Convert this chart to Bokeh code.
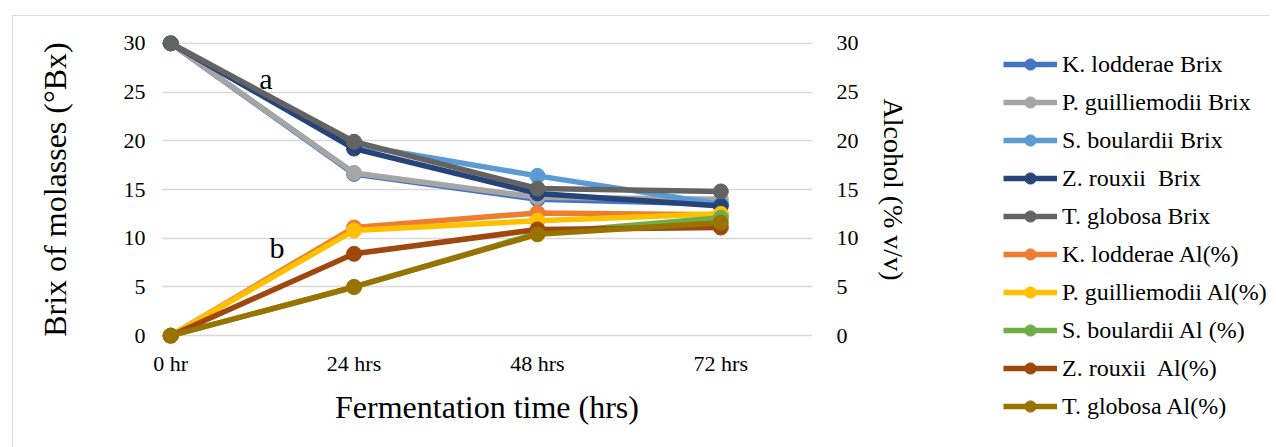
from bokeh.plotting import figure
from bokeh.layouts import row
from bokeh.models import Range1d, LinearAxis, FixedTicker, Legend, LegendItem
from bokeh.core.properties import value
from bokeh.embed import file_html
from bokeh.resources import INLINE

# ---- data ----
time_labels = ["0 hr", "24 hrs", "48 hrs", "72 hrs"]
x_pos = [0, 1, 2, 3]

brix_names = ["K. lodderae Brix", "P. guilliemodii Brix", "S. boulardii Brix",
              "Z. rouxii  Brix", "T. globosa Brix"]
k_lodderae_brix = [30, 16.6, 14.0, 13.5]
p_guilliemodii_brix = [30, 16.7, 14.2, 14.0]
s_boulardii_brix = [30, 19.6, 16.4, 13.5]
z_rouxii_brix = [30, 19.2, 14.6, 13.3]
t_globosa_brix = [30, 19.9, 15.1, 14.8]

al_names = ["K. lodderae Al(%)", "P. guilliemodii Al(%)", "S. boulardii Al (%)",
            "Z. rouxii  Al(%)", "T. globosa Al(%)"]
k_lodderae_al = [0, 11.1, 12.6, 12.4]
p_guilliemodii_al = [0, 10.8, 11.8, 12.5]
s_boulardii_al = [0, 5.0, 10.5, 12.1]
z_rouxii_al = [0, 8.4, 10.9, 11.1]
t_globosa_al = [0, 5.0, 10.4, 11.6]

brix_colors = ["#4472C4", "#A5A5A5", "#5B9BD5", "#264478", "#636363"]
al_colors = ["#ED7D31", "#FFC000", "#70AD47", "#9E480E", "#997300"]

note_text = ["a", "b"]
note_x = [0.52, 0.58]
note_y = [26.4, 9.0]

FONT = "Liberation Serif"
LW = 5.5
MS = 15

p = figure(width=977, height=431, output_backend="svg", toolbar_location=None,
           x_range=Range1d(-0.05, 3.5), y_range=Range1d(-0.8, 30.8),
           min_border_left=148, min_border_right=178, min_border_top=19,
           min_border_bottom=104)
p.extra_y_ranges = {"alc": Range1d(-0.8, 30.8)}
p.outline_line_color = None
p.background_fill_color = "white"
p.border_fill_color = "white"

ticks = [0, 5, 10, 15, 20, 25, 30]

xa = p.xaxis[0]
xa.ticker = FixedTicker(ticks=x_pos)
xa.major_label_overrides = {i: t for i, t in zip(x_pos, time_labels)}
xa.axis_label = "Fermentation time (hrs)"

ya = p.yaxis[0]
ya.ticker = FixedTicker(ticks=ticks)
ya.axis_label = "Brix of molasses (°Bx)"

ra = LinearAxis(y_range_name="alc", ticker=FixedTicker(ticks=ticks),
                axis_label="Alcohol (% v/v)")
p.add_layout(ra, "right")

for ax in [xa, ya, ra]:
    ax.axis_line_color = None
    ax.major_tick_line_color = None
    ax.minor_tick_line_color = None
    ax.major_label_text_font = FONT
    ax.major_label_text_font_size = "22px"
    ax.major_label_text_color = "#000000"
    ax.axis_label_text_font = FONT
    ax.axis_label_text_font_size = "32px"
    ax.axis_label_text_font_style = "normal"
    ax.axis_label_text_color = "#000000"
ra.axis_label_text_font_size = "28px"

xa.major_label_standoff = 1
xa.axis_label_standoff = 10
ya.major_label_standoff = 10
ya.axis_label_standoff = 48
ra.major_label_standoff = 18
ra.axis_label_standoff = 16

p.xgrid.grid_line_color = None
p.ygrid.ticker = FixedTicker(ticks=ticks)
p.ygrid.grid_line_color = "#D9D9D9"
p.ygrid.grid_line_width = 1.3

brix_series = [k_lodderae_brix, p_guilliemodii_brix, s_boulardii_brix,
               z_rouxii_brix, t_globosa_brix]
al_series = [k_lodderae_al, p_guilliemodii_al, s_boulardii_al,
             z_rouxii_al, t_globosa_al]

for ys, c in zip(brix_series, brix_colors):
    p.line(x_pos, ys, line_color=c, line_width=LW)
    p.scatter(x_pos, ys, marker="circle", size=MS, fill_color=c, line_color=c)

for ys, c in zip(al_series, al_colors):
    p.line(x_pos, ys, line_color=c, line_width=LW, y_range_name="alc")
    p.scatter(x_pos, ys, marker="circle", size=MS, fill_color=c, line_color=c,
              y_range_name="alc")

p.text(note_x, note_y, text=note_text, text_font=value(FONT),
       text_font_size="30px", text_align="center", text_baseline="middle",
       text_color="#000000")

# ---- legend panel ----
lf = figure(width=280, height=431, output_backend="svg", toolbar_location=None,
            x_axis_type=None, y_axis_type=None, x_range=Range1d(100, 101),
            y_range=Range1d(100, 101), min_border_left=0, min_border_right=0,
            min_border_bottom=0, min_border_top=21)
lf.outline_line_color = None
lf.xgrid.visible = False
lf.ygrid.visible = False

for fig in (p, lf):
    if "frame_align" in fig.properties():
        fig.frame_align = False

items = []
for name, ys, c in zip(brix_names + al_names, brix_series + al_series,
                       brix_colors + al_colors):
    l = lf.line(x_pos, ys, line_color=c, line_width=LW)
    s = lf.scatter(x_pos, ys, marker="circle", size=MS, fill_color=c, line_color=c)
    items.append(LegendItem(label=name, renderers=[l, s]))

legend = Legend(items=items, location="top_left")
legend.background_fill_alpha = 0
legend.border_line_color = None
legend.label_text_font = FONT
legend.label_text_font_size = "24px"
legend.label_text_color = "#000000"
legend.glyph_width = 54
legend.glyph_height = 28
legend.label_height = 28
legend.spacing = 10
legend.padding = 0
legend.margin = 13
legend.label_standoff = 5
lf.add_layout(legend, "center")

layout = row(p, lf, margin=(15, 0, 0, 12),
             styles={"border-left": "1px solid #D9D9D9",
                     "border-top": "1px solid #D9D9D9"})

open("out.html", "w").write(file_html(layout, INLINE))
